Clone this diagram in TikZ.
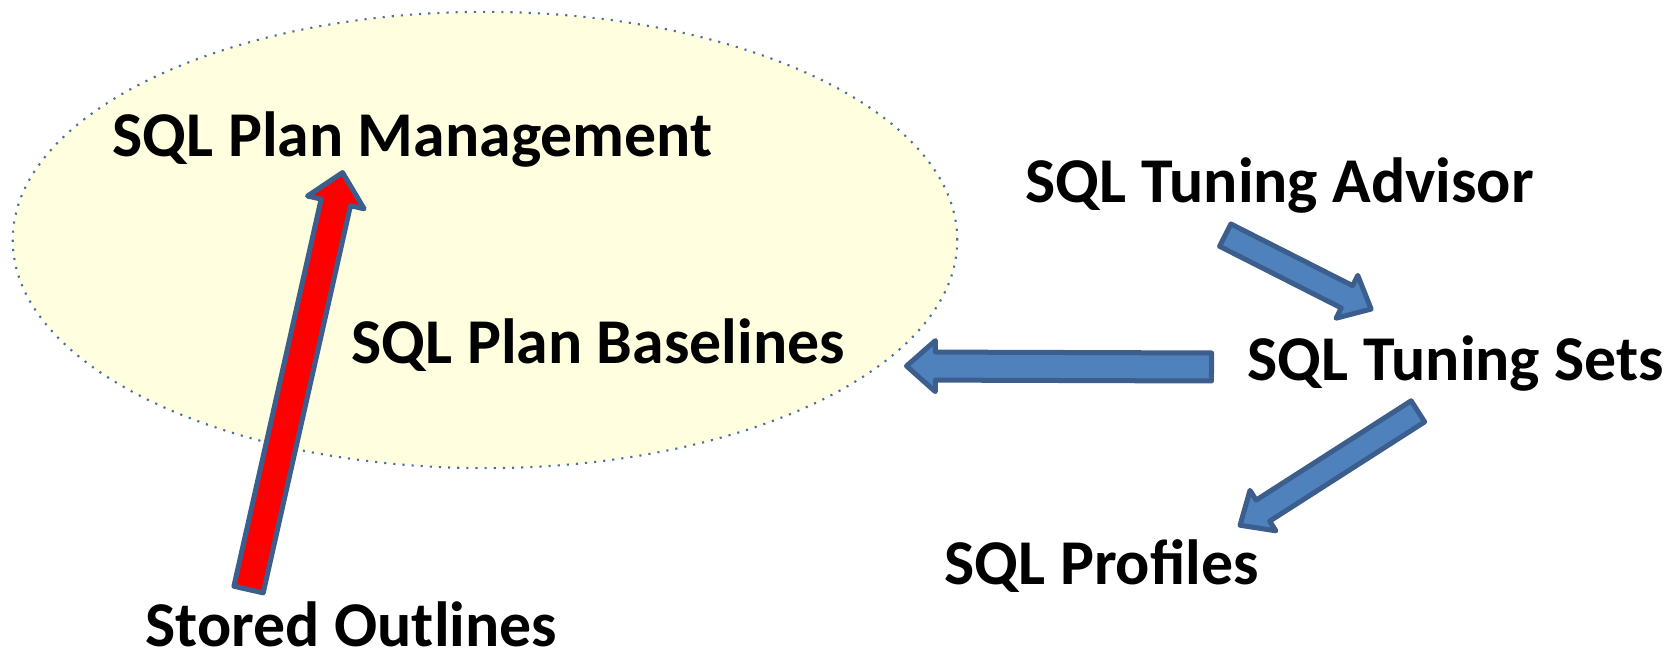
\documentclass[tikz,border=0pt]{standalone}
\usepackage{fontspec}
\setmainfont{Carlito}
\usetikzlibrary{shapes,arrows,positioning,calc}

\definecolor{ovalfill}{HTML}{FFFFE0}
\definecolor{ovaldots}{HTML}{4A6FA5}
\definecolor{arrowblue}{HTML}{4F81BD}
\definecolor{arrowedge}{HTML}{3B5E8C}

% block arrow from #2 (tail) to #3 (tip)
\newcommand{\drawblockarrow}[3][]{%
  \path let \p1=(#2), \p2=(#3),
    \n1={atan2(\y2-\y1,\x2-\x1)}, \n2={veclen(\x2-\x1,\y2-\y1)} in
    node[blockarrow, #1, anchor=tail, rotate=\n1, minimum height=\n2] at (\p1) {};}

\begin{document}
\begin{tikzpicture}[
    x=0.01cm, y=-0.01cm,
    term/.style={anchor=base west, inner sep=0pt, font=\fontsize{18.15}{22}\selectfont\bfseries},
    oval/.style={ellipse, draw=ovaldots, fill=ovalfill, dotted, line width=0.6pt, minimum width=9.44cm, minimum height=4.56cm, inner sep=0pt},
    blockarrow/.style={single arrow, draw=arrowedge, fill=arrowblue, line width=0.05cm, line join=round, inner sep=0.115cm, single arrow head extend=0.115cm, single arrow tip angle=83, single arrow head indent=0pt}
]
    \useasboundingbox (0,0) rectangle (1679,658);

    \node[oval] (spm) at (485,240) {};

    \node[term] (mgmt) at (112,157) {SQL Plan Management};
    \node[term] (baselines) at (351,364) {SQL Plan Baselines};
    \node[term] (advisor) at (1025,203) {SQL Tuning Advisor};
    \node[term] (sets) at (1247,380) {SQL Tuning Sets};
    \node[term] (profiles) at (944,584) {SQL Profiles};
    \node[term] (outlines) at (145,646) {Stored Outlines};

    % arrow ends
    \coordinate (outlines-out) at (248,592);
    \coordinate (mgmt-in) at (342,175);
    \coordinate (sets-out) at (1214,367);
    \coordinate (baselines-in) at (909,366);
    \coordinate (advisor-out) at (1223,234);
    \coordinate (sets-in) at (1369,308);
    \coordinate (sets-down) at (1420,410);
    \coordinate (profiles-in) at (1242,524);

    \drawblockarrow[fill=red, inner sep=0.125cm, single arrow head extend=0.14cm, single arrow tip angle=87]{outlines-out}{mgmt-in};
    \drawblockarrow{sets-out}{baselines-in};
    \drawblockarrow[inner sep=0.1cm, single arrow head extend=0.115cm]{advisor-out}{sets-in};
    \drawblockarrow[inner sep=0.1cm, single arrow head extend=0.115cm]{sets-down}{profiles-in};
\end{tikzpicture}
\end{document}
